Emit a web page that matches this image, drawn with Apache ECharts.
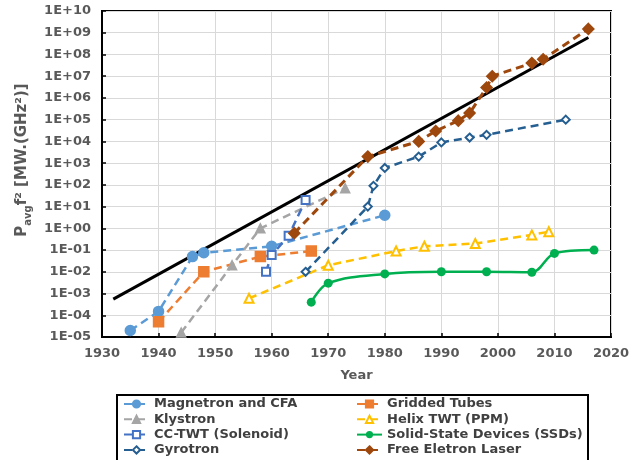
<!DOCTYPE html>
<html>
<head>
<meta charset="utf-8">
<script src="https://cdn.jsdelivr.net/npm/echarts@6/dist/echarts.min.js"></script>
<style>html,body{margin:0;padding:0;background:#fff;}#c{width:640px;height:460px;}</style>
</head>
<body>
<div id="c"></div>
<script>
// ---- data ----
const magnetronYears = [1935, 1940, 1946, 1948, 1960, 1980];
const magnetronVals  = [2e-5, 1.5e-4, 0.05, 0.075, 0.15, 4];

const griddedYears = [1940, 1948, 1958, 1967];
const griddedVals  = [5e-5, 0.01, 0.05, 0.09];

const klystronYears = [1944, 1953, 1958, 1973];
const klystronVals  = [1.6e-5, 0.02, 1, 70];

const helixYears = [1956, 1970, 1982, 1987, 1996, 2006, 2009];
const helixVals  = [6e-4, 0.02, 0.09, 0.15, 0.2, 0.5, 0.7];

const ccTwtYears = [1959, 1960, 1963, 1966];
const ccTwtVals  = [0.01, 0.06, 0.45, 20];

const ssdYears = [1967, 1970, 1980, 1990, 1998, 2006, 2010, 2017];
const ssdVals  = [4e-4, 3e-3, 8e-3, 0.01, 0.01, 0.0095, 0.07, 0.1];

const gyrotronYears = [1966, 1977, 1978, 1980, 1986, 1990, 1995, 1998, 2012];
const gyrotronVals  = [0.01, 10, 90, 600, 2000, 9000, 15000, 20000, 1e5];

const felYears = [1964, 1977, 1986, 1989, 1993, 1995, 1998, 1999, 2006, 2008, 2016];
const felVals  = [0.6, 2000, 1e4, 3e4, 9e4, 2e5, 3e6, 1e7, 4e7, 6e7, 1.5e9];

const trendYears = [1932, 2016];
const trendVals  = [5.5e-4, 6e8];

const xTicks = [1930, 1940, 1950, 1960, 1970, 1980, 1990, 2000, 2010, 2020];

const legendLeft  = ['Magnetron and CFA', 'Klystron', 'CC-TWT (Solenoid)', 'Gyrotron'];
const legendRight = ['Gridded Tubes', 'Helix TWT (PPM)', 'Solid-State Devices (SSDs)', 'Free Eletron Laser'];

// ---- helpers ----
function pairs(xs, ys) { return xs.map((x, i) => [x, ys[i]]); }
function sci(v) {
  const e = Math.round(Math.log10(v));
  const a = Math.abs(e);
  return '1E' + (e >= 0 ? '+' : '-') + (a < 10 ? '0' + a : '' + a);
}
const FONT = 'DejaVu Sans';
const DASH = [8, 5];

function dashSeries(name, xs, ys, color, symbol, size, opts) {
  return Object.assign({
    name: name, type: 'line', data: pairs(xs, ys),
    symbol: symbol, symbolSize: size,
    lineStyle: { color: color, width: 2.5, type: DASH },
    itemStyle: { color: color, borderColor: color, borderWidth: 1.5 },
    emphasis: { disabled: true }
  }, opts || {});
}

const chart = echarts.init(document.getElementById('c'), null, { renderer: 'canvas' });

const legendText = { fontFamily: FONT, fontSize: 13, fontWeight: 'bold', color: '#404040' };

chart.setOption({
  animation: false,
  backgroundColor: '#fff',
  grid: { left: 102, right: 29, top: 11, bottom: 123, show: true, borderColor: '#000', borderWidth: 2 },
  xAxis: {
    type: 'value', min: xTicks[0], max: xTicks[xTicks.length - 1], interval: 10,
    name: 'Year', nameLocation: 'middle', nameGap: 32,
    nameTextStyle: { fontFamily: FONT, fontSize: 13, fontWeight: 'bold', color: '#595959' },
    axisLine: { lineStyle: { color: '#000', width: 2 } },
    axisTick: { inside: true, length: 4, lineStyle: { color: '#000', width: 1.5 } },
    axisLabel: { margin: 10, fontFamily: FONT, fontSize: 13, fontWeight: 'bold', color: '#595959',
      formatter: function (v) { return String(v); } },
    splitLine: { show: true, lineStyle: { color: '#d9d9d9', width: 1 } }
  },
  yAxis: {
    type: 'log', logBase: 10, min: 1e-5, max: 1e10, interval: 1,
    name: '{n|P}{s|avg}{n|f² [MW.(GHz²)]}', nameLocation: 'middle', nameRotate: 90, nameGap: 48,
    nameTextStyle: {
      fontFamily: FONT, fontSize: 15, fontWeight: 'bold', color: '#595959',
      padding: [0, 0, 0, 28],
      rich: {
        n: { fontFamily: FONT, fontSize: 15, fontWeight: 'bold', color: '#595959', lineHeight: 22, verticalAlign: 'middle' },
        s: { fontFamily: FONT, fontSize: 10, fontWeight: 'bold', color: '#595959', lineHeight: 13, verticalAlign: 'bottom' }
      }
    },
    axisLine: { show: true, lineStyle: { color: '#000', width: 2 } },
    axisTick: { show: true, inside: true, length: 4, lineStyle: { color: '#000', width: 1.5 } },
    axisLabel: { margin: 11, fontFamily: FONT, fontSize: 13, fontWeight: 'bold', color: '#595959', formatter: sci },
    splitLine: { show: true, lineStyle: { color: '#d9d9d9', width: 1 } }
  },
  legend: [
    { data: legendLeft, orient: 'vertical', left: 123, top: 397.5, padding: 0, itemGap: 2.3,
      itemWidth: 25, itemHeight: 9, textStyle: legendText, selectedMode: false },
    { data: legendRight, orient: 'vertical', left: 356, top: 397.5, padding: 0, itemGap: 2.3,
      itemWidth: 25, itemHeight: 9, textStyle: legendText, selectedMode: false }
  ],
  graphic: [
    { type: 'rect', shape: { x: 117, y: 395, width: 471, height: 80 },
      style: { fill: 'none', stroke: '#000', lineWidth: 2 }, silent: true }
  ],
  series: [
    dashSeries('Magnetron and CFA', magnetronYears, magnetronVals, '#5b9bd5', 'circle', 10),
    dashSeries('Gridded Tubes', griddedYears, griddedVals, '#ed7d31', 'rect', 10),
    dashSeries('Klystron', klystronYears, klystronVals, '#a5a5a5', 'triangle', 9),
    dashSeries('Helix TWT (PPM)', helixYears, helixVals, '#ffc000', 'emptyTriangle', 9),
    dashSeries('CC-TWT (Solenoid)', ccTwtYears, ccTwtVals, '#4472c4', 'emptyRect', 8),
    {
      name: 'Solid-State Devices (SSDs)', type: 'line', data: pairs(ssdYears, ssdVals),
      smooth: 0.35, symbol: 'circle', symbolSize: 9,
      lineStyle: { color: '#00b050', width: 2.5 },
      itemStyle: { color: '#00b050' }, emphasis: { disabled: true }
    },
    dashSeries('Gyrotron', gyrotronYears, gyrotronVals, '#255e91', 'emptyDiamond', 8),
    dashSeries('Free Eletron Laser', felYears, felVals, '#9e480e', 'diamond', 11, { lineStyle: { color: '#9e480e', width: 3, type: DASH } }),
    {
      name: 'trend', type: 'line', data: pairs(trendYears, trendVals),
      symbol: 'none', lineStyle: { color: '#000', width: 3 }, emphasis: { disabled: true }, z: 1
    }
  ]
});
</script>
</body>
</html>
